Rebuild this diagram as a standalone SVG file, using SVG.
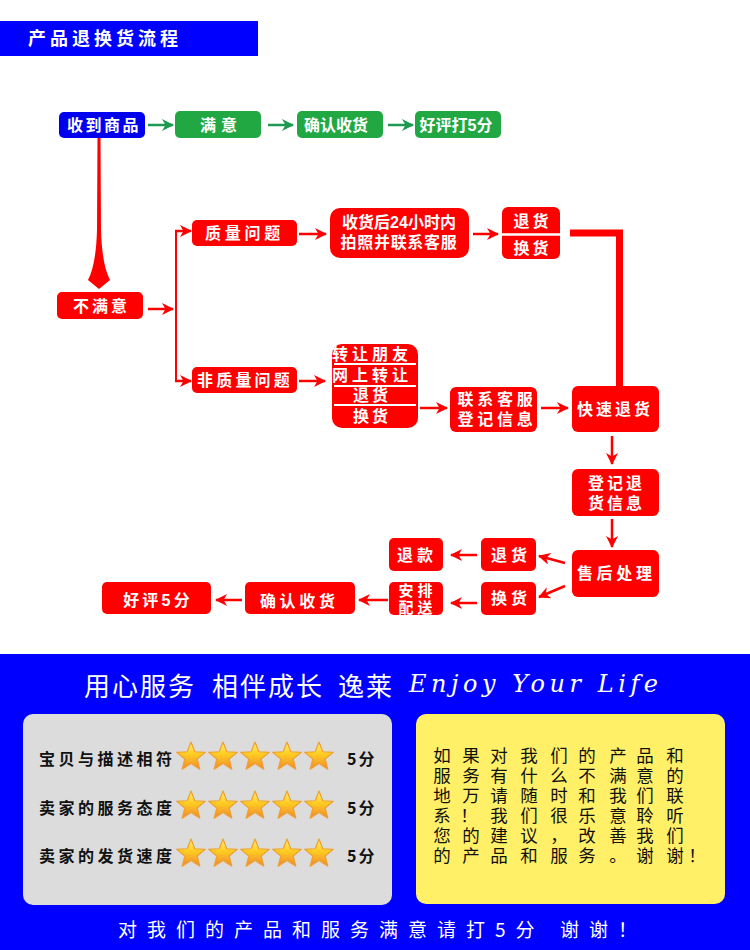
<svg xmlns="http://www.w3.org/2000/svg" width="750" height="950" viewBox="0 0 750 950">
<style>
.t{font-family:"Liberation Sans","Noto Sans CJK SC",sans-serif;font-weight:700;fill:#fff;font-size:16px;text-anchor:middle;dominant-baseline:central}
.t2{font-family:"Liberation Sans","Noto Sans CJK SC",sans-serif;font-weight:700;fill:#fff;font-size:15px;text-anchor:middle;dominant-baseline:central}
.r{fill:#ff0000}
.g{fill:#22a843}
.lr{stroke:#ff0000;stroke-width:2.5;fill:none;marker-end:url(#ar)}
.lg{stroke:#1c9a4f;stroke-width:2.5;fill:none;marker-end:url(#ag)}
.k{font-family:"Noto Sans CJK SC","Noto Sans",sans-serif;font-weight:700;fill:#111;font-size:16px;dominant-baseline:central}
.y{font-family:"Liberation Sans","Noto Sans CJK SC",sans-serif;font-weight:400;fill:#111;font-size:17.5px;text-anchor:middle;dominant-baseline:central}
.w{font-family:"Noto Sans CJK SC","Noto Sans",sans-serif;font-weight:400;fill:#fff;dominant-baseline:central}
</style>
<defs>
<marker id="ar" viewBox="0 0 12 12" refX="11" refY="6" markerWidth="12" markerHeight="12" markerUnits="userSpaceOnUse" orient="auto"><path d="M0,0 L12,6 L0,12 L3.5,6 Z" fill="#ff0000"/></marker>
<marker id="ag" viewBox="0 0 12 12" refX="11" refY="6" markerWidth="12" markerHeight="12" markerUnits="userSpaceOnUse" orient="auto"><path d="M0,0 L12,6 L0,12 L3.5,6 Z" fill="#1c9a4f"/></marker>
<linearGradient id="sg" x1="0" y1="0" x2="0" y2="1"><stop offset="0" stop-color="#fff070"/><stop offset="0.45" stop-color="#ffcc22"/><stop offset="1" stop-color="#ee8830"/></linearGradient>
<path id="star" d="M0,-15 L3.82,-5.26 L14.27,-4.64 L6.18,2.01 L8.82,12.14 L0,6.5 L-8.82,12.14 L-6.18,2.01 L-14.27,-4.64 L-3.82,-5.26 Z" fill="url(#sg)" stroke="#f0a030" stroke-width="1.2" stroke-linejoin="round"/>
</defs>
<rect width="750" height="950" fill="#fff"/>

<g id="header">
<rect x="0" y="21" width="258" height="35" fill="#0000ff"/>
<text class="t" x="28" y="38.5" style="text-anchor:start;font-size:18px;letter-spacing:4px">产品退换货流程</text>
</g>

<g id="connectors">
<line class="lg" x1="148" y1="125" x2="173" y2="125"/>
<line class="lg" x1="268" y1="125" x2="293" y2="125"/>
<line class="lg" x1="388" y1="125" x2="413" y2="125"/>
<path d="M97.5,138 L100.5,138 L101,230 Q102,265 110,280 L99,289 L88,280 Q96,265 97,230 Z" fill="#ff0000"/>
<line class="lr" x1="148" y1="309" x2="173" y2="309"/>
<line x1="176" y1="231" x2="176" y2="381" stroke="#ff0000" stroke-width="2"/>
<line class="lr" x1="175" y1="231" x2="191" y2="231"/>
<line class="lr" x1="175" y1="381" x2="191" y2="381"/>
<line class="lr" x1="299" y1="234" x2="326" y2="234"/>
<line class="lr" x1="473" y1="234" x2="498" y2="234"/>
<polyline points="570,233 619.5,233 619.5,386" stroke="#ff0000" stroke-width="7" fill="none"/>
<line class="lr" x1="299" y1="381" x2="325" y2="381"/>
<line class="lr" x1="420" y1="408" x2="447" y2="408"/>
<line class="lr" x1="541" y1="408" x2="568" y2="408"/>
<line class="lr" x1="612" y1="436" x2="612" y2="464"/>
<line class="lr" x1="612" y1="519" x2="612" y2="547"/>
<line class="lr" x1="565" y1="563" x2="539" y2="556"/>
<line class="lr" x1="565" y1="586" x2="539" y2="597"/>
<line class="lr" x1="477" y1="555" x2="451" y2="555"/>
<line class="lr" x1="477" y1="603" x2="451" y2="603"/>
<line class="lr" x1="388" y1="600" x2="359" y2="600"/>
<line class="lr" x1="242" y1="600" x2="216" y2="600"/>
</g>

<g id="n-receive"><rect x="59" y="112" width="86" height="26" rx="5" fill="#0000ee"/><text class="t" x="104" y="125" style="letter-spacing:2.5px">收到商品</text></g>
<g id="n-satisfied"><rect class="g" x="175" y="111" width="86" height="27" rx="5"/><text class="t" x="221" y="125" style="letter-spacing:5px">满意</text></g>
<g id="n-confirm-g"><rect class="g" x="297" y="111" width="86" height="27" rx="5"/><text class="t" x="336" y="125">确认收货</text></g>
<g id="n-praise-g"><rect class="g" x="415" y="111" width="86" height="27" rx="5"/><text class="t" x="456" y="125">好评打5分</text></g>

<g id="n-unsatisfied"><rect class="r" x="57" y="292" width="86" height="27" rx="5"/><text class="t" x="101.5" y="306" style="letter-spacing:3px">不满意</text></g>
<g id="n-quality"><rect class="r" x="192" y="220" width="105" height="26" rx="5"/><text class="t" x="244.5" y="233" style="letter-spacing:3.7px">质量问题</text></g>
<g id="n-photo"><rect class="r" x="330" y="208" width="139" height="50" rx="10"/><text class="t" x="399" y="222">收货后24小时内</text><text class="t" x="399" y="242" style="letter-spacing:0.7px">拍照并联系客服</text></g>
<g id="n-retex1"><rect class="r" x="502" y="207" width="58" height="52" rx="6"/><line x1="502" y1="234.5" x2="560" y2="234.5" stroke="#fff" stroke-width="2.5"/><text class="t" x="532.5" y="221" style="letter-spacing:3px">退货</text><text class="t" x="532.5" y="248" style="letter-spacing:3px">换货</text></g>
<g id="n-nonquality"><rect class="r" x="192" y="367" width="105" height="26" rx="5"/><text class="t" x="245" y="380" style="letter-spacing:3.2px">非质量问题</text></g>
<g id="n-options"><rect class="r" x="332" y="344" width="86" height="84" rx="10"/><line x1="334" y1="364" x2="416" y2="364" stroke="#fff" stroke-width="2"/><line x1="334" y1="386" x2="416" y2="386" stroke="#fff" stroke-width="2"/><line x1="334" y1="405" x2="416" y2="405" stroke="#fff" stroke-width="2"/><text class="t" x="372" y="354" style="letter-spacing:4px">转让朋友</text><text class="t" x="372" y="375" style="letter-spacing:4px">网上转让</text><text class="t" x="372" y="395.5" style="letter-spacing:3px">退货</text><text class="t" x="372" y="416" style="letter-spacing:3px">换货</text></g>
<g id="n-contact"><rect class="r" x="450" y="387" width="87" height="45" rx="6"/><text class="t" x="497" y="399" style="letter-spacing:3.7px">联系客服</text><text class="t" x="497" y="419" style="letter-spacing:3.7px">登记信息</text></g>
<g id="n-fast"><rect class="r" x="572" y="386" width="87" height="46" rx="6"/><text class="t" x="615" y="409" style="letter-spacing:3px">快速退货</text></g>
<g id="n-register"><rect class="r" x="572" y="469" width="87" height="47" rx="6"/><text class="t" x="616.5" y="483" style="letter-spacing:3px">登记退</text><text class="t" x="616.5" y="503" style="letter-spacing:3px">货信息</text></g>
<g id="n-aftersale"><rect class="r" x="572" y="550" width="87" height="47" rx="6"/><text class="t" x="616.3" y="573" style="letter-spacing:3.7px">售后处理</text></g>
<g id="n-return"><rect class="r" x="481" y="538" width="55" height="33" rx="5"/><text class="t" x="511" y="555" style="letter-spacing:4px">退货</text></g>
<g id="n-exchange"><rect class="r" x="481" y="582" width="55" height="33" rx="5"/><text class="t" x="511" y="598" style="letter-spacing:4px">换货</text></g>
<g id="n-refund"><rect class="r" x="389" y="538" width="54" height="33" rx="5"/><text class="t" x="417" y="555" style="letter-spacing:4px">退款</text></g>
<g id="n-deliver"><rect class="r" x="389" y="582" width="54" height="33" rx="5"/><text class="t2" x="417.5" y="590" style="letter-spacing:4px">安排</text><text class="t2" x="417.5" y="607" style="letter-spacing:4px">配送</text></g>
<g id="n-confirm-r"><rect class="r" x="245" y="582" width="110" height="32" rx="5"/><text class="t" x="299.3" y="601" style="letter-spacing:3.7px">确认收货</text></g>
<g id="n-praise-r"><rect class="r" x="102" y="582" width="109" height="32" rx="5"/><text class="t" x="158" y="600" style="letter-spacing:3.2px">好评5分</text></g>

<g id="footer">
<rect x="0" y="654" width="750" height="296" fill="#0000ff"/>
<text class="w" x="84" y="684" style="font-size:26px;letter-spacing:2px">用心服务</text>
<text class="w" x="212" y="684" style="font-size:26px;letter-spacing:2px">相伴成长</text>
<text class="w" x="338" y="684" style="font-size:26px;letter-spacing:2px">逸莱</text>
<text x="409" y="684" textLength="249" lengthAdjust="spacing" style="font-family:'DejaVu Serif',serif;font-style:italic;font-size:24px;fill:#fff;dominant-baseline:central">Enjoy Your Life</text>

<g id="ratings">
<rect x="23" y="714" width="369" height="191" rx="10" fill="#dcdcdc"/>
<text class="k" x="39" y="758" style="letter-spacing:3.5px">宝贝与描述相符</text>
<text class="k" x="39" y="807" style="letter-spacing:3.5px">卖家的服务态度</text>
<text class="k" x="39" y="855" style="letter-spacing:3.5px">卖家的发货速度</text>
<use href="#star" x="191" y="757"/><use href="#star" x="223" y="757"/><use href="#star" x="255" y="757"/><use href="#star" x="287" y="757"/><use href="#star" x="319" y="757"/>
<use href="#star" x="191" y="806"/><use href="#star" x="223" y="806"/><use href="#star" x="255" y="806"/><use href="#star" x="287" y="806"/><use href="#star" x="319" y="806"/>
<use href="#star" x="191" y="854"/><use href="#star" x="223" y="854"/><use href="#star" x="255" y="854"/><use href="#star" x="287" y="854"/><use href="#star" x="319" y="854"/>
<text class="k" x="347" y="758" style="letter-spacing:2px">5分</text>
<text class="k" x="347" y="807" style="letter-spacing:2px">5分</text>
<text class="k" x="347" y="855" style="letter-spacing:2px">5分</text>
</g>

<g id="message">
<rect x="416" y="714" width="309" height="190" rx="10" fill="#fff068"/>
<text class="y" x="442 471 499 529 559 587 618 645 675" y="756">如果对我们的产品和</text>
<text class="y" x="442 471 499 529 559 587 618 645 675" y="776">服务有什么不满意的</text>
<text class="y" x="442 471 499 529 559 587 618 645 675" y="796">地万请随时和我们联</text>
<text class="y" x="442 469 499 529 559 587 618 645 675" y="816">系！我们很乐意聆听</text>
<text class="y" x="442 471 499 529 559 587 618 645 675" y="836">您的建议，改善我们</text>
<text class="y" x="442 471 499 529 559 587 618 645 675 697" y="856">的产品和服务。谢谢！</text>
</g>

<text class="w" x="118" y="928" style="font-size:19px;letter-spacing:10px">对我们的产品和服务满意请打5分</text>
<text class="w" x="560" y="928" style="font-size:19px;letter-spacing:10px">谢谢！</text>
</g>
</svg>
